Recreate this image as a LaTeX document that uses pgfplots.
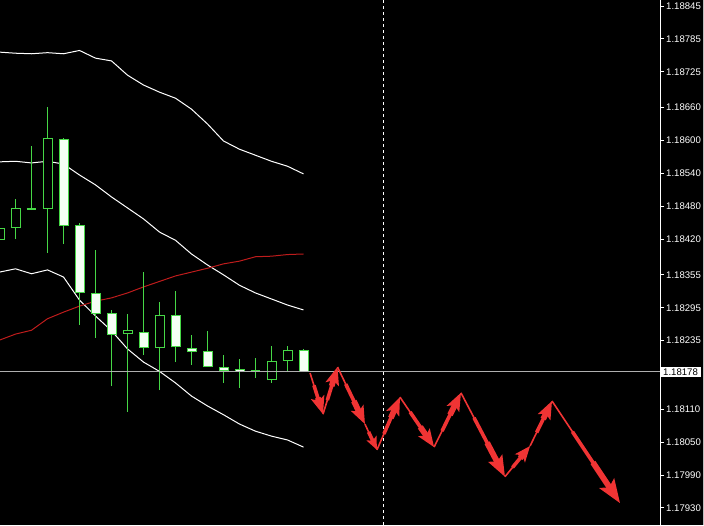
\documentclass[border=0pt]{standalone}
\usepackage{fontspec}
\setmainfont{Liberation Sans}
\usepackage{pgfplots}
\pgfplotsset{compat=1.18}
\usetikzlibrary{arrows.meta}

\definecolor{candle}{RGB}{70,215,70}
\definecolor{bearfill}{RGB}{245,255,245}
\definecolor{ma}{RGB}{190,28,28}
\definecolor{fc}{RGB}{240,52,52}
\definecolor{bidline}{RGB}{175,175,175}

% fill, x, low, body low, body high, high
\newcommand{\candle}[6]{%
  \addplot[candle, line width=1pt] coordinates {(#2,#3) (#2,#6)};
  \addplot[candle, line width=10pt, line cap=butt] coordinates {(#2,#4) (#2,#5)};
  \addplot[#1, line width=8pt, line cap=butt, shorten <=1pt, shorten >=1pt] coordinates {(#2,#4) (#2,#5)};}
% x, low, body, high
\newcommand{\doji}[4]{%
  \addplot[candle, line width=1pt] coordinates {(#1,#2) (#1,#4)};
  \addplot[candle, line width=2pt] coordinates {(#1-0.31,#3) (#1+0.31,#3)};}
% tapered forecast arrow: drawn length (pt), head, from, to
\newcommand{\fca}[4]{%
  \addplot[fc, line width=1.6pt, -{Stealth[#2]}] coordinates {#3 #4};
  \addplot[fc, line width=3.6pt, line cap=butt, shorten <=0.3*#1pt, shorten >=9pt] coordinates {#3 #4};
  \addplot[fc, line width=5.8pt, line cap=butt, shorten <=0.6*#1pt, shorten >=10pt] coordinates {#3 #4};}

\begin{document}
\begin{tikzpicture}
\useasboundingbox (0,0) rectangle (704pt,525pt);
\fill[black] (0,0) rectangle (704pt,525pt);
\draw[white!75!black] (703.5pt,0) -- (703.5pt,525pt);
\begin{axis}[
    at={(0,0)}, anchor=south west,
    width=660pt, height=525pt, scale only axis,
    xmin=0.03125, xmax=41.28125,
    ymin=1.17899, ymax=1.18856,
    axis background/.style={fill=black},
    axis x line=none,
    axis y line*=right,
    y axis line style={white, line width=1pt, -},
    xtick=\empty,
    ytick={1.17930,1.17990,1.18050,1.18110,1.18235,1.18295,1.18355,1.18420,1.18480,1.18540,1.18600,1.18660,1.18725,1.18785,1.18845},
    yticklabels={1.17930,1.17990,1.18050,1.18110,1.18235,1.18295,1.18355,1.18420,1.18480,1.18540,1.18600,1.18660,1.18725,1.18785,1.18845},
    tick align=outside,
    major tick length=4pt,
    tick style={white, line width=1pt},
    yticklabel style={text=white, font=\fontsize{9.6}{11}\selectfont, inner sep=1pt, xshift=1pt},
    extra y ticks={1.18178},
    extra y tick labels={1.18178},
    extra y tick style={major tick length=0pt,
      yticklabel style={fill=white, text=black, inner xsep=3pt, inner ysep=1.5pt, xshift=-1pt}},
    clip=true,
]
% bollinger bands
\addplot[white, line width=1pt] coordinates {
  (0,1.18761) (1,1.18759) (2,1.18758) (3,1.18760) (4,1.18758) (5,1.18764)
  (6,1.18750) (7,1.18745) (8,1.18719) (9,1.18701) (10,1.18688) (11,1.18677)
  (12,1.18657) (13,1.18630) (14,1.18599) (15,1.18584) (16,1.18573) (17,1.18562)
  (18,1.18553) (19,1.18539)};
\addplot[white, line width=1pt] coordinates {
  (0,1.18561) (1,1.18562) (2,1.18559) (3,1.18562) (4,1.18557) (5,1.18537)
  (6,1.18519) (7,1.18497) (8,1.18477) (9,1.18457) (10,1.18433) (11,1.18418)
  (12,1.18393) (13,1.18373) (14,1.18355) (15,1.18336) (16,1.18322) (17,1.18311)
  (18,1.18300) (19,1.18291)};
\addplot[white, line width=1pt] coordinates {
  (0,1.18360) (1,1.18366) (2,1.18357) (3,1.18364) (4,1.18351) (5,1.18309)
  (6,1.18280) (7,1.18253) (8,1.18220) (9,1.18196) (10,1.18179) (11,1.18158)
  (12,1.18134) (13,1.18116) (14,1.18100) (15,1.18083) (16,1.18070) (17,1.18061)
  (18,1.18054) (19,1.18041)};
% moving average
\addplot[ma, line width=1pt] coordinates {
  (0,1.18236) (1,1.18247) (2,1.18254) (3,1.18275) (4,1.18287) (5,1.18298)
  (6,1.18307) (7,1.18313) (8,1.18322) (9,1.18333) (10,1.18343) (11,1.18353)
  (12,1.18360) (13,1.18367) (14,1.18375) (15,1.18380) (16,1.18388) (17,1.18389)
  (18,1.18392) (19,1.18393)};
% candles
\candle{black}{0}{1.18417}{1.18418}{1.18440}{1.18441}
\candle{black}{1}{1.18420}{1.18440}{1.18477}{1.18493}
\doji{2}{1.18473}{1.18475}{1.18589}
\candle{black}{3}{1.18395}{1.18475}{1.18604}{1.18661}
\candle{bearfill}{4}{1.18411}{1.18444}{1.18603}{1.18604}
\candle{bearfill}{5}{1.18264}{1.18322}{1.18446}{1.18449}
\candle{bearfill}{6}{1.18240}{1.18284}{1.18322}{1.18400}
\candle{bearfill}{7}{1.18152}{1.18245}{1.18285}{1.18291}
\candle{black}{8}{1.18105}{1.18247}{1.18254}{1.18284}
\candle{bearfill}{9}{1.18209}{1.18222}{1.18251}{1.18360}
\candle{black}{10}{1.18145}{1.18222}{1.18282}{1.18306}
\candle{bearfill}{11}{1.18196}{1.18223}{1.18282}{1.18326}
\candle{bearfill}{12}{1.18191}{1.18214}{1.18222}{1.18245}
\candle{bearfill}{13}{1.18187}{1.18187}{1.18216}{1.18253}
\candle{bearfill}{14}{1.18158}{1.18180}{1.18187}{1.18209}
\candle{bearfill}{15}{1.18149}{1.18178}{1.18183}{1.18202}
\doji{16}{1.18167}{1.18180}{1.18203}
\candle{black}{17}{1.18158}{1.18163}{1.18198}{1.18225}
\candle{black}{18}{1.18180}{1.18198}{1.18218}{1.18225}
\candle{bearfill}{19}{1.18178}{1.18178}{1.18218}{1.18220}
% bid line and separator
\addplot[bidline, line width=1pt] coordinates {(0.03125,1.18178) (41.28125,1.18178)};
\addplot[white, line width=1pt, dash pattern=on 3pt off 3pt] coordinates {(23.97,1.17899) (23.97,1.18856)};
% forecast arrows
\fca{43}{length=18pt, width=14pt, inset=4pt}{(19.41,1.18176)}{(20.22,1.18101)}
\fca{49}{length=18pt, width=14pt, inset=4pt}{(20.22,1.18101)}{(21.125,1.18187)}
\fca{63}{length=18pt, width=14pt, inset=4pt}{(21.125,1.18187)}{(22.84,1.18083)}
\fca{29}{length=13pt, width=11pt, inset=3pt}{(22.84,1.18083)}{(23.59,1.18036)}
\fca{58}{length=18pt, width=14pt, inset=4pt}{(23.59,1.18036)}{(25.03,1.18132)}
\fca{60}{length=18pt, width=14pt, inset=4pt}{(25.03,1.18132)}{(27.16,1.18041)}
\fca{60}{length=18pt, width=14pt, inset=4pt}{(27.16,1.18041)}{(28.84,1.18140)}
\fca{94}{length=21pt, width=16pt, inset=4pt}{(28.84,1.18140)}{(31.59,1.17987)}
\fca{40}{length=16pt, width=13pt, inset=4pt}{(31.59,1.17987)}{(33.16,1.18043)}
\fca{50}{length=18pt, width=14pt, inset=4pt}{(33.16,1.18043)}{(34.53,1.18125)}
\fca{123}{length=24pt, width=18pt, inset=5pt}{(34.53,1.18125)}{(38.78,1.17939)}
\end{axis}
\end{tikzpicture}
\end{document}
